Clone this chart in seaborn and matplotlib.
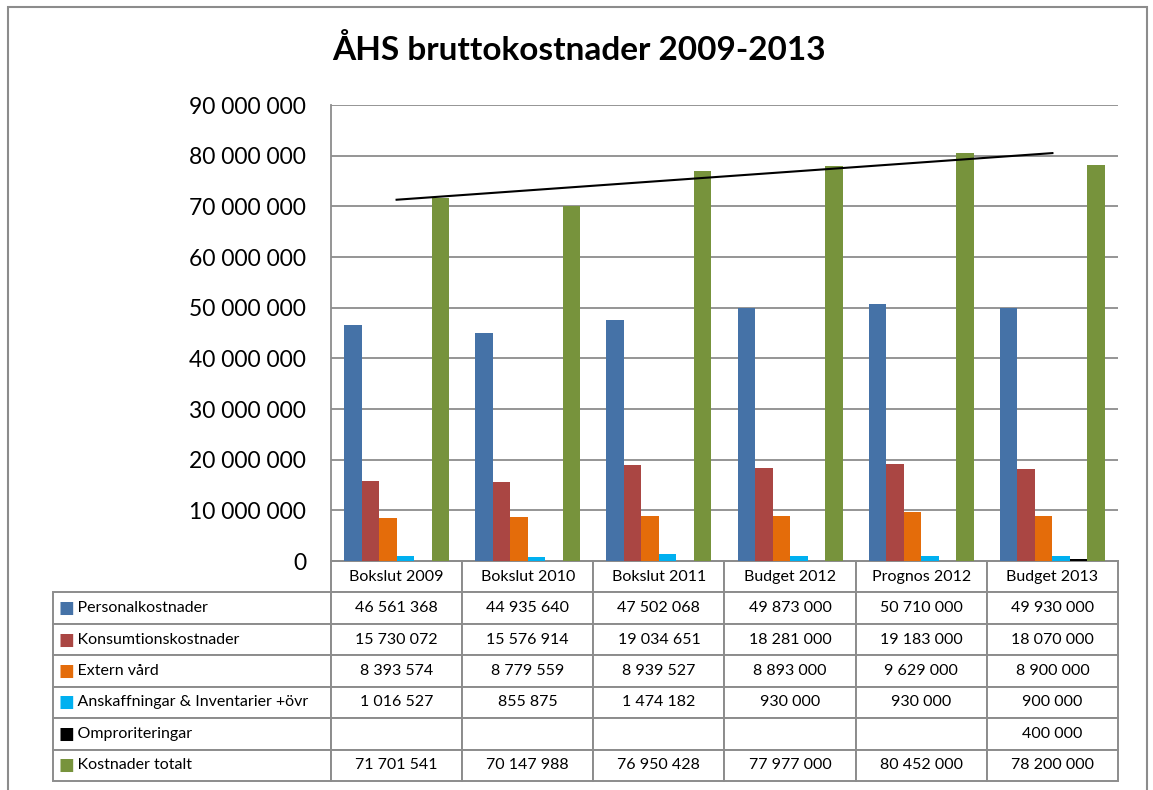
import numpy as np
import pandas as pd
import seaborn as sns
import matplotlib.pyplot as plt
from matplotlib.patches import Rectangle
from matplotlib.ticker import FuncFormatter, MultipleLocator

# Data
kategorier = ['Bokslut 2009', 'Bokslut 2010', 'Bokslut 2011',
              'Budget 2012', 'Prognos 2012', 'Budget 2013']
serier = ['Personalkostnader', 'Konsumtionskostnader', 'Extern vård',
          'Anskaffningar & Inventarier +övr', 'Omproriteringar', 'Kostnader totalt']
personal = [46561368, 44935640, 47502068, 49873000, 50710000, 49930000]
konsumtion = [15730072, 15576914, 19034651, 18281000, 19183000, 18070000]
extern = [8393574, 8779559, 8939527, 8893000, 9629000, 8900000]
anskaffning = [1016527, 855875, 1474182, 930000, 930000, 900000]
omprio = [np.nan, np.nan, np.nan, np.nan, np.nan, 400000]
totalt = [71701541, 70147988, 76950428, 77977000, 80452000, 78200000]
farger = ['#4572A7', '#AA4643', '#E46C0A', '#00B0F0', '#000000', '#77933C']

varden = [personal, konsumtion, extern, anskaffning, omprio, totalt]
df = pd.DataFrame({
    'kategori': kategorier * len(serier),
    'serie': np.repeat(serier, len(kategorier)),
    'varde': np.concatenate(varden),
})

plt.rcParams['font.family'] = ['Lato', 'DejaVu Sans']

fig = plt.figure(figsize=(11.53, 7.90), dpi=100)
ax = fig.add_axes([331 / 1153, 1 - 561 / 790, 787 / 1153, 456 / 790])

sns.barplot(data=df, x='kategori', y='varde', hue='serie', order=kategorier,
            hue_order=serier, palette=farger, saturation=1, errorbar=None,
            width=0.8, ax=ax, zorder=3)
if ax.get_legend() is not None:
    ax.get_legend().remove()

# linjär trendlinje för totalen
x = np.arange(len(kategorier))
k, m = np.polyfit(x, totalt, 1)
ax.plot(x, k * x + m, color='black', lw=1.5, zorder=4)

ax.set_ylim(0, 90000000)
ax.set_xlim(-0.5, len(kategorier) - 0.5)
ax.yaxis.set_major_locator(MultipleLocator(10000000))
ax.yaxis.set_major_formatter(FuncFormatter(lambda v, p: f'{v:,.0f}'.replace(',', ' ')))
ax.tick_params(axis='y', labelsize=16.5, length=0, pad=18)
ax.tick_params(axis='x', labelbottom=False, length=0)
ax.set_xlabel('')
ax.set_ylabel('')
ax.grid(axis='y', color='#8c8c8c', lw=1.3, zorder=0)
ax.set_axisbelow(True)
for s in ['top', 'right']:
    ax.spines[s].set_visible(False)
for s in ['left', 'bottom']:
    ax.spines[s].set_color('#8c8c8c')
    ax.spines[s].set_linewidth(1.3)

# Datatabell under diagrammet
def fmt(v):
    return '' if np.isnan(v) else f'{v:,.0f}'.replace(',', ' ')

cell_text = [[fmt(v) for v in rad] for rad in varden]
lbl_w = 278 / 787
col_w = 1 / 6
tbl_h = 220 / 456
tbl = ax.table(cellText=cell_text, colLabels=kategorier, cellLoc='center',
               colWidths=[col_w] * 6, bbox=[0, -tbl_h, 1, tbl_h])
cell_h = tbl[(1, 0)].get_height()
for i, s in enumerate(serier):
    tbl.add_cell(i + 1, -1, width=lbl_w, height=cell_h, text='    ' + s, loc='left')
tbl.auto_set_font_size(False)
tbl.set_fontsize(11.5)
for (r, c), cell in tbl.get_celld().items():
    cell.set_edgecolor('#8c8c8c')
    cell.set_linewidth(1.4)
    if c == -1:
        cell.PAD = 0.03

# färgrutor framför radetiketterna
rad_h = tbl_h / 7
for i, f in enumerate(farger):
    ax.text((66 - 331) / 787, -(i + 1.5) * rad_h, '■', color=f, fontsize=12,
            ha='center', va='center', transform=ax.transAxes, clip_on=False,
            family='DejaVu Sans')

fig.text(0.502, 0.937, 'ÅHS bruttokostnader 2009-2013', fontsize=24,
         fontweight='bold', ha='center', va='center')

fig.patches.append(Rectangle((8 / 1153, -0.05), 1139 / 1153, 1.05 - 7 / 790,
                             transform=fig.transFigure, fill=False,
                             edgecolor='#8c8c8c', lw=1.5))

fig.savefig('out.png', dpi=100)
